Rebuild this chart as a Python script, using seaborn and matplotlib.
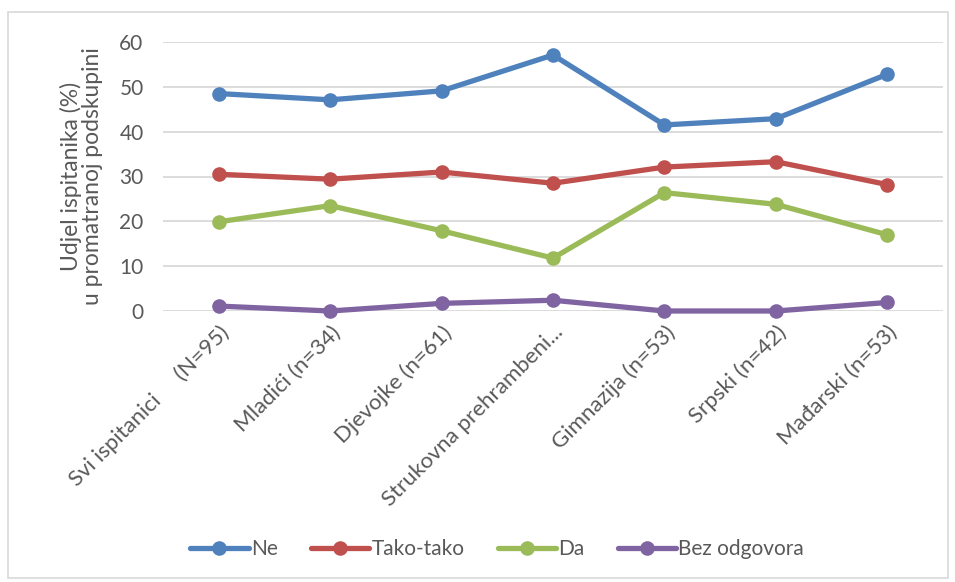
import pandas as pd
import matplotlib.pyplot as plt
import seaborn as sns
from matplotlib.patches import Rectangle

# ==========================================
# DATA
# ==========================================
categories = ["Svi ispitanici     (N=95)", "Mladići (n=34)", "Djevojke (n=61)",
              "Strukovna prehrambeni...", "Gimnazija (n=53)", "Srpski (n=42)",
              "Mađarski (n=53)"]
series_names = ["Ne", "Tako-tako", "Da", "Bez odgovora"]
ne = [48.5, 47.1, 49.1, 57.1, 41.5, 42.9, 52.8]
tako_tako = [30.5, 29.4, 31.0, 28.5, 32.1, 33.3, 28.2]
da = [19.9, 23.5, 17.9, 11.8, 26.4, 23.8, 17.0]
bez_odgovora = [1.1, 0.0, 1.7, 2.4, 0.0, 0.0, 1.9]
colors = ["#4F81BD", "#C0504D", "#9BBB59", "#8064A2"]

rows = []
for name, vals in zip(series_names, [ne, tako_tako, da, bez_odgovora]):
    for i, v in enumerate(vals):
        rows.append({"pos": i, "value": v, "series": name})
df = pd.DataFrame(rows)

# ==========================================
# PLOT
# ==========================================
sns.set_style("white")
plt.rcParams['font.family'] = ['Lato', 'DejaVu Sans']
text_col = "#595959"

fig = plt.figure(figsize=(9.55, 5.82), dpi=100)
ax = fig.add_axes([163 / 955, 1 - 311 / 582, 780 / 955, 269 / 582])

sns.lineplot(data=df, x="pos", y="value", hue="series", hue_order=series_names,
             palette=colors, marker="o", markersize=10.5, markeredgewidth=0,
             linewidth=3.8, ax=ax, legend=False, clip_on=False, zorder=3)

ax.set_xlim(-0.5, 6.5)
ax.set_ylim(0, 60)
ax.set_yticks(range(0, 61, 10))
ax.yaxis.grid(True, color="#D9D9D9", linewidth=1.3)
ax.set_axisbelow(True)
for s in ax.spines.values():
    s.set_visible(False)
ax.tick_params(axis="y", length=0, labelsize=15, colors=text_col, pad=14)
ax.tick_params(axis="x", length=0, labelsize=16, colors=text_col, pad=8)
ax.set_xticks(range(len(categories)))
ax.set_xticklabels(categories, rotation=45, ha="right", rotation_mode="anchor")
ax.set_xlabel("")
ax.set_ylabel("Udjel ispitanika (%)\nu promatranoj podskupini", fontsize=16.5,
              color=text_col, labelpad=12, linespacing=1.0)

# legend
handles = [plt.Line2D([0], [0], color=c, lw=3.8, marker="o", markersize=10.5,
                      markeredgewidth=0) for c in colors]
fig.legend(handles, series_names, loc="center", bbox_to_anchor=(497 / 955, 1 - 549 / 582),
           ncol=4, frameon=False, fontsize=15, handlelength=2.8,
           handletextpad=0.1, columnspacing=1.6, labelcolor=text_col)

# outer chart border
fig.patches.append(Rectangle((8 / 955, 4 / 582), 940 / 955, 566 / 582,
                             transform=fig.transFigure, fill=False,
                             edgecolor="#D9D9D9", linewidth=1.2))

fig.savefig("out.png", dpi=100)
